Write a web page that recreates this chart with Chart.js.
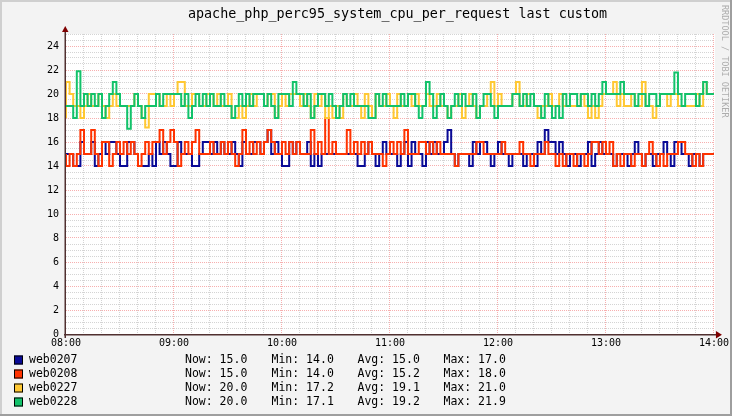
<!DOCTYPE html>
<html><head><meta charset="utf-8">
<script src="https://cdn.jsdelivr.net/npm/chart.js@4"></script>
<style>html,body{margin:0;padding:0;background:#F3F3F3;}canvas{display:block;}</style>
</head><body>
<canvas id="c" width="732" height="416"></canvas>
<script>
const chartTitle = 'apache_php_perc95_system_cpu_per_request last custom';
const watermark = 'RRDTOOL / TOBI OETIKER';
const seriesNames = ['web0207', 'web0208', 'web0227', 'web0228'];
const hourLabels = ['08:00', '09:00', '10:00', '11:00', '12:00', '13:00', '14:00'];
const sampleStepMinutes = 2;

const web0207 = [
15,15,15,14,14,16,15,15,16,14, 15,16,15,16,16,15,14,14,16,16, 15,14,14,14,15,14,16,15,16,15,
14,14,16,15,15,15,14,14,15,16, 16,15,16,15,16,15,15,16,15,14, 16,15,15,16,16,15,16,17,15,16,
15,14,14,16,15,16,15,15,16,14, 15,14,15,15,15,15,15,15,15,15, 15,15,14,14,15,16,15,14,15,16,
15,15,15,14,15,16,14,16,15,15, 14,16,15,16,15,15,16,17,15,14, 15,15,15,14,16,15,16,16,15,14,
15,16,15,15,14,15,15,15,14,15, 15,14,16,15,17,16,16,15,16,15, 14,15,15,14,15,15,16,14,15,16,
15,15,15,14,15,15,15,14,15,16, 15,14,15,15,14,15,15,16,15,14, 16,16,15,15,14,15,15,14,15,15
];
const web0208 = [
15,14,15,14,15,17,15,15,17,15, 14,16,16,14,15,16,15,16,15,16, 15,14,15,16,15,16,16,17,15,16,
17,16,14,15,16,15,16,17,15,15, 15,16,15,15,16,15,16,15,14,15, 17,15,16,15,16,15,16,17,16,15,
15,16,15,16,15,16,15,15,15,17, 15,16,15,18,15,16,15,15,15,17, 15,16,15,16,15,16,15,15,15,14,
15,16,15,16,15,17,15,15,15,16, 16,15,16,15,16,15,15,15,15,14, 15,15,15,15,15,16,16,15,15,15,
15,15,16,15,15,15,15,16,15,15, 14,15,15,15,16,15,15,14,15,14, 15,15,14,15,15,14,15,16,16,15,
16,15,16,14,15,14,15,15,14,15, 15,14,15,16,15,14,15,14,15,15, 15,16,16,15,15,14,15,14,15,15
];
const web0227 = [
18,21,20,19,19,18,19,20,19,19, 20,19,18,19,20,19,19,19,19,19, 20,19,18,17.2,20,20,20,19,19,20,
19,20,21,21,19,19,20,20,19,19, 20,20,19,20,19,19,20,18,18,19, 18,19,20,19,20,20,19,20,20,18,
19,20,19,20,20,20,19,20,19,18, 20,19,20,18,19,18,19,18,20,19, 19,20,19,18,20,19,18,20,19,19,
20,19,18,20,19,19,20,19,20,19, 19,20,19,19,20,19,19,18,19,19, 20,18,19,20,19,18,19,19,20,21,
19,20,19,19,19,20,21,19,19,20, 20,19,18,19,19,20,19,19,20,19, 19,19,19,19,20,19,18,19,18,19,
20,20,20,21,19,20,19,19,20,19, 19,21,19,19,18,19,20,20,19,20, 20,19,19,19,19,19,20,19,21,20
];
const web0228 = [
19,19,19,18,21.9,19,20,19,20,19, 20,18,19,20,21,20,19,19,17.1,19, 20,19,18,19,19,19,20,19,20,20,
20,20,20,19,20,18,19,20,19,20, 19,20,19,19,20,19,19,18,19,20, 19,20,19,20,20,20,19,20,19,18,
20,20,20,19,21,20,20,19,20,18, 19,20,20,19,20,19,18,19,20,19, 20,19,19,19,19,18,18,20,19,20,
19,19,19,19,20,19,20,20,19,18, 19,21,20,18,19,20,19,18,19,20, 19,20,19,19,20,18,19,20,20,19,
18,19,19,19,19,20,20,19,20,19, 20,19,19,18,20,19,18,19,18,20, 19,20,20,19,20,20,19,20,19,20,
21,20,20,20,20,21,20,20,20,19, 20,20,19,20,20,19,20,20,20,20, 21.8,20,19,20,20,20,19,20,21,20
];
const legendNow = ['15.0', '15.0', '20.0', '20.0'];
const legendMin = ['14.0', '14.0', '17.2', '17.1'];
const legendAvg = ['15.0', '15.2', '19.1', '19.2'];
const legendMax = ['17.0', '18.0', '21.0', '21.9'];

const seriesColors = ['#0A0A96', '#FF3300', '#FFC833', '#12C26A'];
const seriesValues = [web0207, web0208, web0227, web0228];
const MONO = "'DejaVu Sans Mono', monospace";

function toPoints(vals) {
  const pts = vals.map((v, i) => ({x: i * sampleStepMinutes, y: v}));
  pts.push({x: vals.length * sampleStepMinutes, y: vals[vals.length - 1]});
  return pts;
}

const datasets = seriesValues.map((vals, k) => ({
  label: seriesNames[k],
  data: toPoints(vals),
  borderColor: seriesColors[k],
  backgroundColor: seriesColors[k],
  borderWidth: 2,
  stepped: 'after',
  pointRadius: 0,
  fill: false,
  borderJoinStyle: 'miter',
  order: seriesValues.length - 1 - k
}));

const rrdPlugin = {
  id: 'rrd',
  beforeDraw(chart) {
    const ctx = chart.ctx, W = chart.width, H = chart.height, a = chart.chartArea;
    ctx.save();
    ctx.fillStyle = '#F3F3F3';
    ctx.fillRect(0, 0, W, H);
    ctx.fillStyle = '#CFCFCF';
    ctx.fillRect(0, 0, W, 2);
    ctx.fillRect(0, 0, 2, H);
    ctx.fillStyle = '#9E9E9E';
    ctx.fillRect(0, H - 2, W, 2);
    ctx.fillRect(W - 2, 0, 2, H);
    ctx.fillStyle = '#FFFFFF';
    ctx.fillRect(a.left, a.top, a.right - a.left + 1, a.bottom - a.top);
    ctx.restore();
  },
  beforeDatasetsDraw(chart) {
    const ctx = chart.ctx, a = chart.chartArea, xs = chart.scales.x, ys = chart.scales.y;
    ctx.save();
    ctx.lineWidth = 1;
    ctx.setLineDash([1, 1]);
    const drawSet = (major) => {
      ctx.strokeStyle = major ? 'rgba(240,110,110,0.55)' : 'rgba(160,160,160,0.45)';
      ctx.beginPath();
      xs.ticks.forEach(t => {
        const isMajor = Math.round(t.value) % 60 === 0;
        if (isMajor !== major || t.value <= xs.min) return;
        const px = Math.floor(xs.getPixelForValue(t.value)) + 0.5;
        ctx.moveTo(px, a.top); ctx.lineTo(px, a.bottom);
      });
      ys.ticks.forEach(t => {
        const isMajor = Math.abs(t.value % 2) < 1e-9;
        if (isMajor !== major || t.value <= ys.min) return;
        const py = Math.floor(ys.getPixelForValue(t.value)) + 0.5;
        ctx.moveTo(a.left, py); ctx.lineTo(a.right, py);
      });
      ctx.stroke();
    };
    drawSet(false);
    drawSet(true);
    ctx.restore();
  },
  afterDatasetsDraw(chart) {
    const ctx = chart.ctx, a = chart.chartArea;
    ctx.save();
    ctx.fillStyle = '#503030';
    ctx.fillRect(a.left - 2, a.bottom, 652, 1.5);
    ctx.fillRect(a.left - 1.5, a.top - 4, 1.5, a.bottom - a.top + 8);
    ctx.fillStyle = '#7F0000';
    ctx.beginPath();
    ctx.moveTo(a.right + 2, a.bottom - 3);
    ctx.lineTo(a.right + 8, a.bottom + 0.75);
    ctx.lineTo(a.right + 2, a.bottom + 4.5);
    ctx.closePath(); ctx.fill();
    ctx.beginPath();
    ctx.moveTo(a.left - 4, a.top - 2);
    ctx.lineTo(a.left - 0.75, a.top - 8);
    ctx.lineTo(a.left + 2.5, a.top - 2);
    ctx.closePath(); ctx.fill();
    ctx.restore();
  },
  afterDraw(chart) {
    const ctx = chart.ctx;
    ctx.save();
    ctx.fillStyle = '#000000';
    ctx.textBaseline = 'middle';
    ctx.textAlign = 'center';
    ctx.font = '13.4px ' + MONO;
    ctx.fillText(chartTitle, 397.5, 15);
    ctx.textAlign = 'left';
    ctx.font = '11.5px ' + MONO;
    seriesNames.forEach((name, k) => {
      const y = 360 + 14 * k;
      ctx.fillStyle = seriesColors[k];
      ctx.fillRect(14, y - 4.5, 9, 9);
      ctx.strokeStyle = '#000000';
      ctx.lineWidth = 1;
      ctx.strokeRect(14.5, y - 4, 8, 8);
      ctx.fillStyle = '#000000';
      ctx.fillText(name, 29, y);
      ctx.fillText('Now: ' + legendNow[k], 185, y);
      ctx.fillText('Min: ' + legendMin[k], 271.5, y);
      ctx.fillText('Avg: ' + legendAvg[k], 357.5, y);
      ctx.fillText('Max: ' + legendMax[k], 443.5, y);
    });
    ctx.translate(724.5, 5);
    ctx.rotate(Math.PI / 2);
    ctx.font = '8.5px ' + MONO;
    ctx.fillStyle = '#ADADAD';
    ctx.textAlign = 'left';
    ctx.fillText(watermark, 0, 0);
    ctx.restore();
  }
};

new Chart(document.getElementById('c'), {
  type: 'line',
  data: {datasets},
  options: {
    responsive: false,
    devicePixelRatio: 1,
    animation: false,
    layout: {padding: {top: 34, right: 17, left: 0, bottom: 0}},
    plugins: {legend: {display: false}, title: {display: false}, tooltip: {enabled: false}},
    elements: {point: {radius: 0}, line: {tension: 0}},
    scales: {
      x: {
        type: 'linear', min: 0, max: 360,
        grid: {display: false, drawTicks: false},
        border: {display: false},
        ticks: {
          stepSize: 10, autoSkip: false, maxRotation: 0, minRotation: 0, padding: 3,
          color: '#000000', font: {family: MONO, size: 10},
          callback: (v) => (Math.round(v) % 60 === 0 ? hourLabels[Math.round(v) / 60] : '')
        },
        afterFit: (s) => { s.height = 82; }
      },
      y: {
        min: 0, max: 25,
        grid: {display: false, drawTicks: false},
        border: {display: false},
        ticks: {
          stepSize: 0.5, autoSkip: false, padding: 7,
          color: '#000000', font: {family: MONO, size: 10},
          callback: (v) => (Math.abs(v % 2) < 1e-9 ? String(v) : '')
        },
        afterFit: (s) => { s.width = 66; }
      }
    }
  },
  plugins: [rrdPlugin]
});
</script>
</body></html>
